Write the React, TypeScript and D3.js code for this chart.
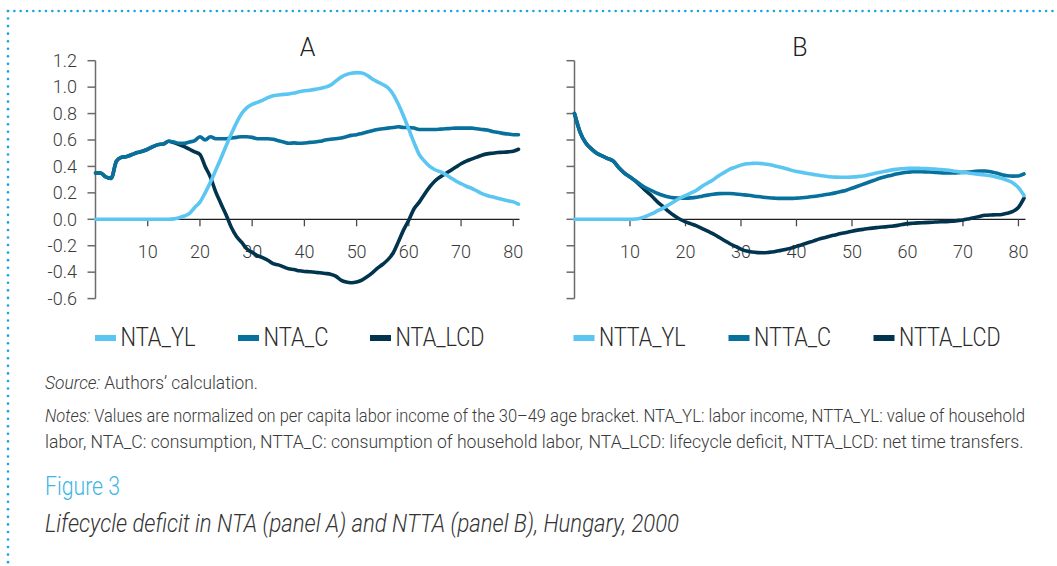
import React from 'react';
import * as d3 from 'd3';

// ---------- data ----------
const ages: number[] = d3.range(0, 82);

const ntaYL = [0,0,0,0,0,0,0,0,0,0, 0,0,0,0,0,0.003,0.012,0.025,0.045,0.09,
  0.13,0.2,0.28,0.37,0.46,0.555,0.645,0.73,0.8,0.845,
  0.87,0.885,0.9,0.92,0.935,0.94,0.945,0.948,0.955,0.965,
  0.972,0.977,0.983,0.99,1.0,1.015,1.045,1.075,1.095,1.105,
  1.11,1.107,1.09,1.062,1.04,1.02,0.995,0.945,0.87,0.78,
  0.68,0.58,0.49,0.44,0.4,0.375,0.36,0.34,0.315,0.29,
  0.27,0.25,0.235,0.215,0.195,0.18,0.17,0.16,0.15,0.14,
  0.132,0.115];
const ntaC = [0.35,0.35,0.32,0.31,0.44,0.47,0.475,0.49,0.505,0.515,
  0.53,0.55,0.565,0.57,0.59,0.585,0.575,0.575,0.585,0.595,
  0.625,0.6,0.625,0.61,0.61,0.61,0.615,0.62,0.625,0.625,
  0.62,0.61,0.61,0.61,0.605,0.595,0.585,0.575,0.578,0.575,
  0.577,0.582,0.585,0.59,0.6,0.605,0.61,0.615,0.625,0.635,
  0.64,0.65,0.66,0.67,0.68,0.685,0.69,0.695,0.7,0.695,
  0.695,0.69,0.68,0.68,0.68,0.68,0.682,0.685,0.687,0.69,
  0.69,0.69,0.69,0.685,0.68,0.675,0.665,0.658,0.65,0.645,
  0.64,0.64];
const ntaLCD = [0.35,0.35,0.32,0.31,0.44,0.47,0.475,0.49,0.505,0.515,
  0.53,0.55,0.565,0.57,0.59,0.58,0.565,0.55,0.53,0.51,
  0.49,0.4,0.32,0.21,0.12,0.035,-0.06,-0.13,-0.175,-0.225,
  -0.25,-0.275,-0.29,-0.31,-0.335,-0.345,-0.36,-0.375,-0.38,-0.39,
  -0.395,-0.397,-0.4,-0.405,-0.41,-0.415,-0.43,-0.46,-0.475,-0.48,
  -0.475,-0.46,-0.435,-0.405,-0.37,-0.34,-0.305,-0.255,-0.17,-0.08,
  -0.005,0.08,0.13,0.19,0.245,0.29,0.32,0.345,0.37,0.395,
  0.42,0.44,0.455,0.47,0.485,0.495,0.5,0.505,0.507,0.51,
  0.515,0.53];

const nttaYL = [0,0,0,0,0,0,0,0,0,0, 0,0.002,0.01,0.025,0.042,0.065,0.085,0.11,0.135,0.16,
  0.18,0.2,0.22,0.25,0.275,0.3,0.33,0.355,0.38,0.395,
  0.41,0.42,0.423,0.424,0.42,0.415,0.405,0.395,0.385,0.372,
  0.362,0.355,0.347,0.34,0.333,0.327,0.322,0.319,0.318,0.318,
  0.32,0.323,0.328,0.337,0.346,0.355,0.364,0.372,0.378,0.382,
  0.385,0.385,0.385,0.384,0.383,0.38,0.377,0.373,0.368,0.362,
  0.355,0.35,0.345,0.34,0.335,0.33,0.32,0.31,0.295,0.275,
  0.24,0.18];
const nttaC = [0.8,0.66,0.58,0.535,0.5,0.48,0.46,0.44,0.39,0.35,
  0.32,0.29,0.26,0.235,0.215,0.195,0.18,0.168,0.162,0.16,
  0.16,0.162,0.167,0.175,0.183,0.19,0.194,0.195,0.195,0.192,
  0.188,0.183,0.178,0.172,0.167,0.163,0.16,0.158,0.158,0.158,
  0.16,0.163,0.167,0.172,0.178,0.185,0.192,0.2,0.21,0.22,
  0.235,0.25,0.265,0.28,0.295,0.31,0.322,0.332,0.342,0.35,
  0.356,0.36,0.36,0.359,0.358,0.355,0.352,0.35,0.35,0.352,
  0.355,0.358,0.362,0.365,0.365,0.36,0.35,0.338,0.33,0.327,
  0.328,0.343];
const nttaLCD = [0.8,0.66,0.58,0.535,0.5,0.48,0.46,0.44,0.39,0.35,
  0.32,0.288,0.25,0.21,0.173,0.13,0.095,0.058,0.027,0.0,
  -0.02,-0.035,-0.05,-0.07,-0.09,-0.11,-0.135,-0.16,-0.185,-0.205,
  -0.225,-0.24,-0.248,-0.252,-0.253,-0.25,-0.245,-0.237,-0.228,-0.218,
  -0.205,-0.192,-0.178,-0.165,-0.15,-0.14,-0.128,-0.118,-0.108,-0.1,
  -0.09,-0.082,-0.076,-0.07,-0.065,-0.06,-0.057,-0.053,-0.048,-0.04,
  -0.033,-0.03,-0.027,-0.025,-0.023,-0.021,-0.019,-0.018,-0.015,-0.01,
  -0.005,0.003,0.012,0.022,0.03,0.033,0.034,0.037,0.045,0.06,
  0.09,0.16];

const yTicks = [1.2, 1.0, 0.8, 0.6, 0.4, 0.2, 0.0, -0.2, -0.4, -0.6];
const xTicks = [10, 20, 30, 40, 50, 60, 70, 80];
const legendA = ['NTA_YL', 'NTA_C', 'NTA_LCD'];
const legendB = ['NTTA_YL', 'NTTA_C', 'NTTA_LCD'];

// ---------- style ----------
const C_LIGHT = '#5bc6f2';
const C_MID = '#08709c';
const C_DARK = '#01344e';
const TXT = '#3a3a3a';
const FONT = 'Roboto, "Open Sans", "DejaVu Sans", sans-serif';

const yScale = d3.scaleLinear().domain([-0.6, 1.2]).range([298.6, 60.7]);
const fmt = (v: number) => d3.format('.1f')(v).replace('\u2212', '-');

type PanelProps = {
  x0: number; xEnd: number; axisEnd: number; title: string;
  yl: number[]; c: number[]; lcd: number[]; labels: string[];
  showYLabels: boolean; legendX: number[]; legendW: number[];
};

function Panel(p: PanelProps) {
  const x = d3.scaleLinear().domain([0, 81]).range([p.x0, p.xEnd]);
  const line = d3.line<number>()
    .x((_, i) => x(ages[i]))
    .y((d) => yScale(d))
    .curve(d3.curveMonotoneX);
  const y0 = yScale(0);
  const series = [
    { d: p.lcd, color: C_DARK },
    { d: p.c, color: C_MID },
    { d: p.yl, color: C_LIGHT },
  ];
  const colors = [C_LIGHT, C_MID, C_DARK];
  return (
    <g>
      <text x={(p.x0 + p.axisEnd) / 2} y={55.5} textAnchor="middle" fontSize={25}
        fontWeight={300} fill="#222" fontFamily={FONT}>{p.title}</text>
      {/* y axis */}
      <line x1={p.x0} x2={p.x0} y1={yScale(1.2)} y2={yScale(-0.6)} stroke="#6b6b6b" strokeWidth={1.5} />
      {yTicks.map((t) => (
        <g key={t}>
          <line x1={p.x0 - 8} x2={p.x0} y1={yScale(t)} y2={yScale(t)} stroke="#6b6b6b" strokeWidth={1.5} />
          {p.showYLabels && (
            <text x={77} y={yScale(t) + 6.3} textAnchor="end" fontSize={18} fontWeight={300}
              fill={TXT} fontFamily={FONT}>{fmt(t)}</text>
          )}
        </g>
      ))}
      {/* x axis */}
      <line x1={p.x0} x2={p.axisEnd} y1={y0} y2={y0} stroke="#1e1e1e" strokeWidth={1.3} />
      {xTicks.map((t) => (
        <g key={t}>
          <line x1={x(t)} x2={x(t)} y1={y0} y2={y0 + 7} stroke="#4a4a4a" strokeWidth={1.3} />
          <text x={x(t)} y={257.5} textAnchor="middle" fontSize={18} fontWeight={300}
            fill={TXT} fontFamily={FONT}>{t}</text>
        </g>
      ))}
      {series.map((s, i) => (
        <path key={i} d={line(s.d) || ''} fill="none" stroke={s.color} strokeWidth={3.6}
          strokeLinejoin="round" strokeLinecap="round" />
      ))}
      {/* legend */}
      {p.labels.map((lab, i) => (
        <g key={lab}>
          <rect x={p.legendX[i]} y={335} width={21} height={6} fill={colors[i]} />
          <text x={p.legendX[i] + 25.5} y={346} fontSize={26} fontWeight={300} fill="#2a2a2a"
            fontFamily={FONT} textLength={p.legendW[i]} lengthAdjust="spacingAndGlyphs">{lab}</text>
        </g>
      ))}
    </g>
  );
}

export default function App() {
  const topDots = d3.range(8, 1057, 6.33);
  const leftDots = d3.range(11, 566, 7.55);
  const fs = 17.5;
  return (
    <svg width={1057} height={566} style={{ position: 'absolute', left: 0, top: 0, background: '#fff' }}
      xmlns="http://www.w3.org/2000/svg">
      <rect width={1057} height={566} fill="#fff" />
      {topDots.map((dx, i) => <circle key={'t' + i} cx={dx} cy={11} r={1.3} fill="#1aa3e0" />)}
      {leftDots.map((dy, i) => <circle key={'l' + i} cx={8} cy={dy} r={1.3} fill="#1aa3e0" />)}

      <Panel x0={95.5} xEnd={518.5} axisEnd={519.5} title="A" yl={ntaYL} c={ntaC} lcd={ntaLCD}
        labels={legendA} showYLabels={true} legendX={[95, 238, 370]} legendW={[75, 65, 89]} />
      <Panel x0={574.5} xEnd={1024} axisEnd={1025.5} title="B" yl={nttaYL} c={nttaC} lcd={nttaLCD}
        labels={legendB} showYLabels={false} legendX={[573.5, 728.5, 873.5]} legendW={[86.5, 77, 101.5]} />

      <g fontFamily={FONT} fill={TXT} fontWeight={300}>
        <text x={45} y={389.3} fontSize={fs} textLength={213} lengthAdjust="spacingAndGlyphs">
          <tspan fontStyle="italic">Source:</tspan> Authors’ calculation.
        </text>
        <text x={45} y={421.7} fontSize={fs} textLength={501} lengthAdjust="spacingAndGlyphs">
          <tspan fontStyle="italic">Notes:</tspan> Values are normalized on per capita labor income of the 30–49
        </text>
        <text x={550} y={421.7} fontSize={fs} textLength={475} lengthAdjust="spacingAndGlyphs">
          age bracket. NTA_YL: labor income, NTTA_YL: value of household
        </text>
        <text x={45} y={448.3} fontSize={fs} textLength={538} lengthAdjust="spacingAndGlyphs">
          labor, NTA_C: consumption, NTTA_C: consumption of household labor,
        </text>
        <text x={588.5} y={448.3} fontSize={fs} textLength={435} lengthAdjust="spacingAndGlyphs">
          NTA_LCD: lifecycle deficit, NTTA_LCD: net time transfers.
        </text>
        <text x={45} y={495} fontSize={25} fill="#3db5e6" textLength={75} lengthAdjust="spacingAndGlyphs">Figure 3</text>
        <text x={45} y={531.7} fontSize={25} fontStyle="italic" fill="#333" textLength={634}
          lengthAdjust="spacingAndGlyphs">Lifecycle deficit in NTA (panel A) and NTTA (panel B), Hungary, 2000</text>
      </g>
    </svg>
  );
}
